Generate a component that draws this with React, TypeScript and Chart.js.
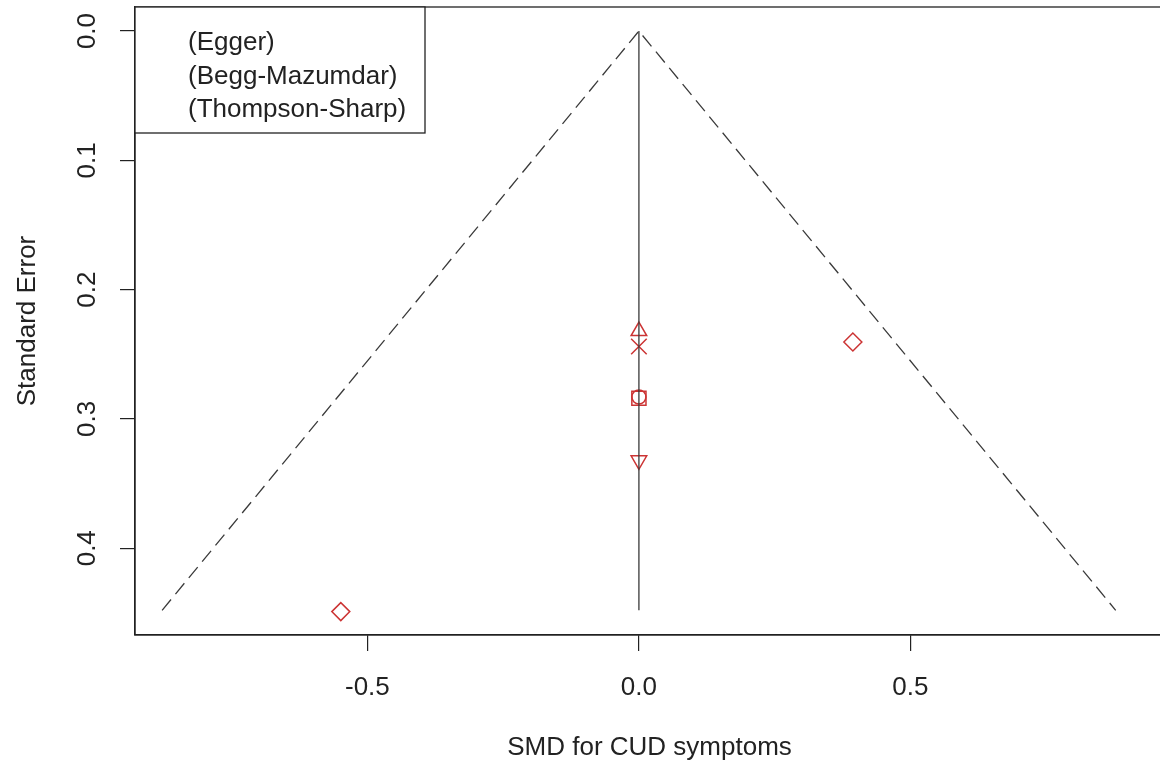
import React, { useEffect, useRef } from 'react';
import { Chart, registerables } from 'chart.js';

Chart.register(...registerables);

const FONT = "'Liberation Sans', Arial, Helvetica, sans-serif";
const INK = '#222222';
const LINE = '#3a3a3a';
const RED = '#cc3434';
const FONT_SIZE = 26;

// Axis ticks and ranges
const xTickValues = [-0.5, 0, 0.5];
const yTickValues = [0, 0.1, 0.2, 0.3, 0.4];
const xRange = [-0.928, 0.967];
const yRange = [-0.0186, 0.4671];

// Legend entries
const legendLabels = ['(Egger)', '(Begg-Mazumdar)', '(Thompson-Sharp)'];

// Study-level effect sizes (SMD) and their standard errors
const studySMD = [0, 0, 0, 0, 0, 0.394, -0.549];
const studySE = [0.232, 0.244, 0.283, 0.284, 0.332, 0.2405, 0.449];
const studyStyle = ['triangle', 'crossRot', 'circle', 'rect', 'triangle', 'rectRot', 'rectRot'];
const studyRotation = [0, 0, 0, 0, 180, 0, 0];
const studyRadius = [9, 11, 7, 10, 9, 9, 9];

// Funnel: pooled estimate with 95% pseudo-confidence limits down to the largest SE
const pooledSMD = 0;
const funnelSE = [0.448, 0, 0.448];
const funnelZ = [-1.96, 0, 1.96];

const framePlugin = {
  id: 'frameAndLabels',
  afterDraw(chart: any) {
    const { ctx, chartArea, scales } = chart;
    ctx.save();

    // plot box
    ctx.strokeStyle = INK;
    ctx.lineWidth = 1.3;
    ctx.strokeRect(chartArea.left, chartArea.top, chartArea.right - chartArea.left, chartArea.bottom - chartArea.top);

    // rotated y tick labels
    ctx.fillStyle = INK;
    ctx.font = `${FONT_SIZE}px ${FONT}`;
    ctx.textAlign = 'center';
    ctx.textBaseline = 'middle';
    for (const v of yTickValues) {
      const y = scales.y.getPixelForValue(v);
      ctx.save();
      ctx.translate(88, y);
      ctx.rotate(-Math.PI / 2);
      ctx.fillText(v.toFixed(1), 0, 0);
      ctx.restore();
    }

    // legend box
    const bx = chartArea.left;
    const by = chartArea.top;
    ctx.fillStyle = '#ffffff';
    ctx.fillRect(bx, by, 290, 126);
    ctx.strokeRect(bx, by, 290, 126);
    ctx.fillStyle = INK;
    ctx.textAlign = 'left';
    ctx.textBaseline = 'alphabetic';
    legendLabels.forEach((label, i) => {
      ctx.fillText(label, bx + 53, by + 43 + i * 33.5);
    });

    ctx.restore();
  },
};

export default function App() {
  const canvasRef = useRef<HTMLCanvasElement | null>(null);

  useEffect(() => {
    const canvas = canvasRef.current;
    if (!canvas) return;

    const funnel = funnelSE.map((se, i) => ({ x: pooledSMD + funnelZ[i] * se, y: se }));
    const pooledLine = [
      { x: pooledSMD, y: 0 },
      { x: pooledSMD, y: funnelSE[0] },
    ];
    const studies = studySMD.map((x, i) => ({ x, y: studySE[i] }));

    const tickFont = { family: FONT, size: FONT_SIZE };

    const chart = new Chart(canvas, {
      type: 'scatter',
      data: {
        datasets: [
          {
            type: 'line',
            data: funnel,
            borderColor: LINE,
            borderWidth: 1.3,
            borderDash: [14, 7],
            pointRadius: 0,
            fill: false,
            tension: 0,
          },
          {
            type: 'line',
            data: pooledLine,
            borderColor: LINE,
            borderWidth: 1.3,
            pointRadius: 0,
            fill: false,
          },
          {
            type: 'scatter',
            data: studies,
            pointStyle: studyStyle as any,
            pointRotation: studyRotation,
            pointRadius: studyRadius,
            borderColor: RED,
            backgroundColor: 'rgba(0,0,0,0)',
            borderWidth: 1.5,
          },
        ],
      },
      options: {
        animation: false,
        responsive: false,
        maintainAspectRatio: false,
        layout: { autoPadding: false, padding: { left: 0, top: 7, right: 16, bottom: 0 } },
        plugins: { legend: { display: false }, tooltip: { enabled: false } },
        scales: {
          x: {
            type: 'linear',
            position: 'bottom',
            min: xRange[0],
            max: xRange[1],
            afterBuildTicks: (s: any) => {
              s.ticks = xTickValues.map((value) => ({ value }));
            },
            afterFit: (s: any) => {
              s.height = 134;
              s.paddingLeft = 0;
              s.paddingRight = 0;
            },
            grid: { drawOnChartArea: false, drawTicks: true, tickLength: 16, color: INK, lineWidth: 1.2 },
            border: { display: true, color: INK, width: 1.3 },
            ticks: {
              font: tickFont,
              color: INK,
              padding: 21,
              callback: (v: any) => Number(v).toFixed(1),
            },
            title: {
              display: true,
              text: 'SMD for CUD symptoms',
              font: tickFont,
              color: INK,
              padding: { top: 0, bottom: 6 },
            },
          },
          y: {
            type: 'linear',
            position: 'left',
            reverse: true,
            min: yRange[0],
            max: yRange[1],
            afterBuildTicks: (s: any) => {
              s.ticks = yTickValues.map((value) => ({ value }));
            },
            afterFit: (s: any) => {
              s.width = 135;
              s.paddingTop = 0;
              s.paddingBottom = 0;
            },
            grid: { drawOnChartArea: false, drawTicks: true, tickLength: 15, color: INK, lineWidth: 1.2 },
            border: { display: true, color: INK, width: 1.3 },
            ticks: { display: false },
            title: {
              display: true,
              text: 'Standard Error',
              font: tickFont,
              color: INK,
              padding: { top: 12, bottom: 0 },
            },
          },
        },
      },
      plugins: [framePlugin],
    });

    return () => chart.destroy();
  }, []);

  return (
    <div style={{ position: 'absolute', left: 0, top: 0, width: 1160, height: 769, overflow: 'hidden', background: '#fff' }}>
      <canvas ref={canvasRef} width={1180} height={769} style={{ display: 'block' }} />
    </div>
  );
}
